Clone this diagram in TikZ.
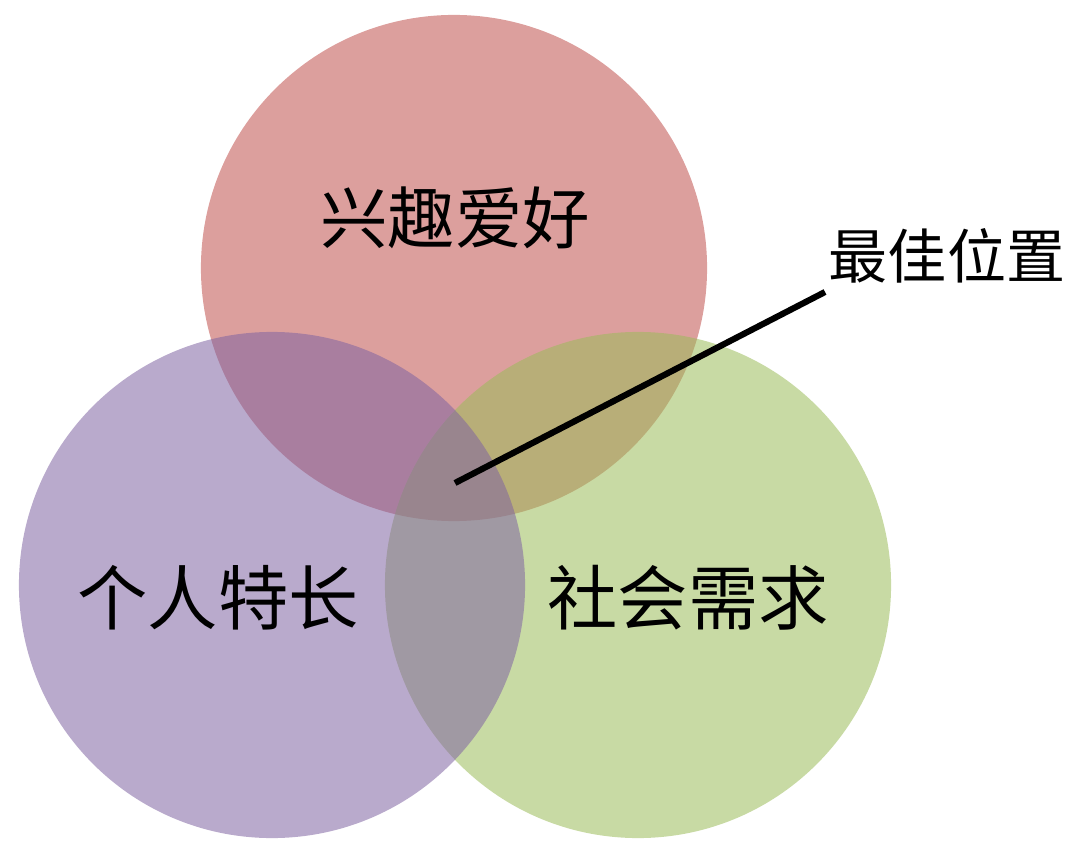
\documentclass[tikz,border=0pt]{standalone}
\usepackage{tikz}
\usetikzlibrary{positioning}
\usepackage{fontspec}
\newfontfamily\cjk{Noto Sans CJK SC}
\definecolor{hobbyred}{HTML}{C0504D}
\definecolor{skillpurple}{HTML}{8064A2}
\definecolor{needgreen}{HTML}{9BBB59}

\begin{document}
\begin{tikzpicture}[x=0.025cm, y=-0.025cm,
				ring/.style={circle, minimum size=12.65cm, inner sep=0, fill opacity=0.55},
				every node/.style={font=\cjk}
				]
				\useasboundingbox (0,0) rectangle (1080,866);
				\node[ring, fill=hobbyred] (hobby) at (454,268) {};
				\node[ring, fill=needgreen] (need) at (638,585) {};
				\node[ring, fill=skillpurple] (skill) at (272,585) {};
				\node[font=\cjk\fontsize{48}{52}\selectfont] (hobbytext) at (455,218) {兴趣爱好};
				\node[font=\cjk\fontsize{50}{54}\selectfont] (skilltext) at (218,598) {个人特长};
				\node[font=\cjk\fontsize{50}{54}\selectfont] (needtext) at (688,598) {社会需求};
				\node[font=\cjk\fontsize{42}{46}\selectfont] (best) at (947,256) {最佳位置};
				\coordinate (spot) at (455,483);
				\coordinate (lineend) at (825,292);
				\draw[line width=4.4pt] (spot) -- (lineend);
			\end{tikzpicture}
\end{document}
